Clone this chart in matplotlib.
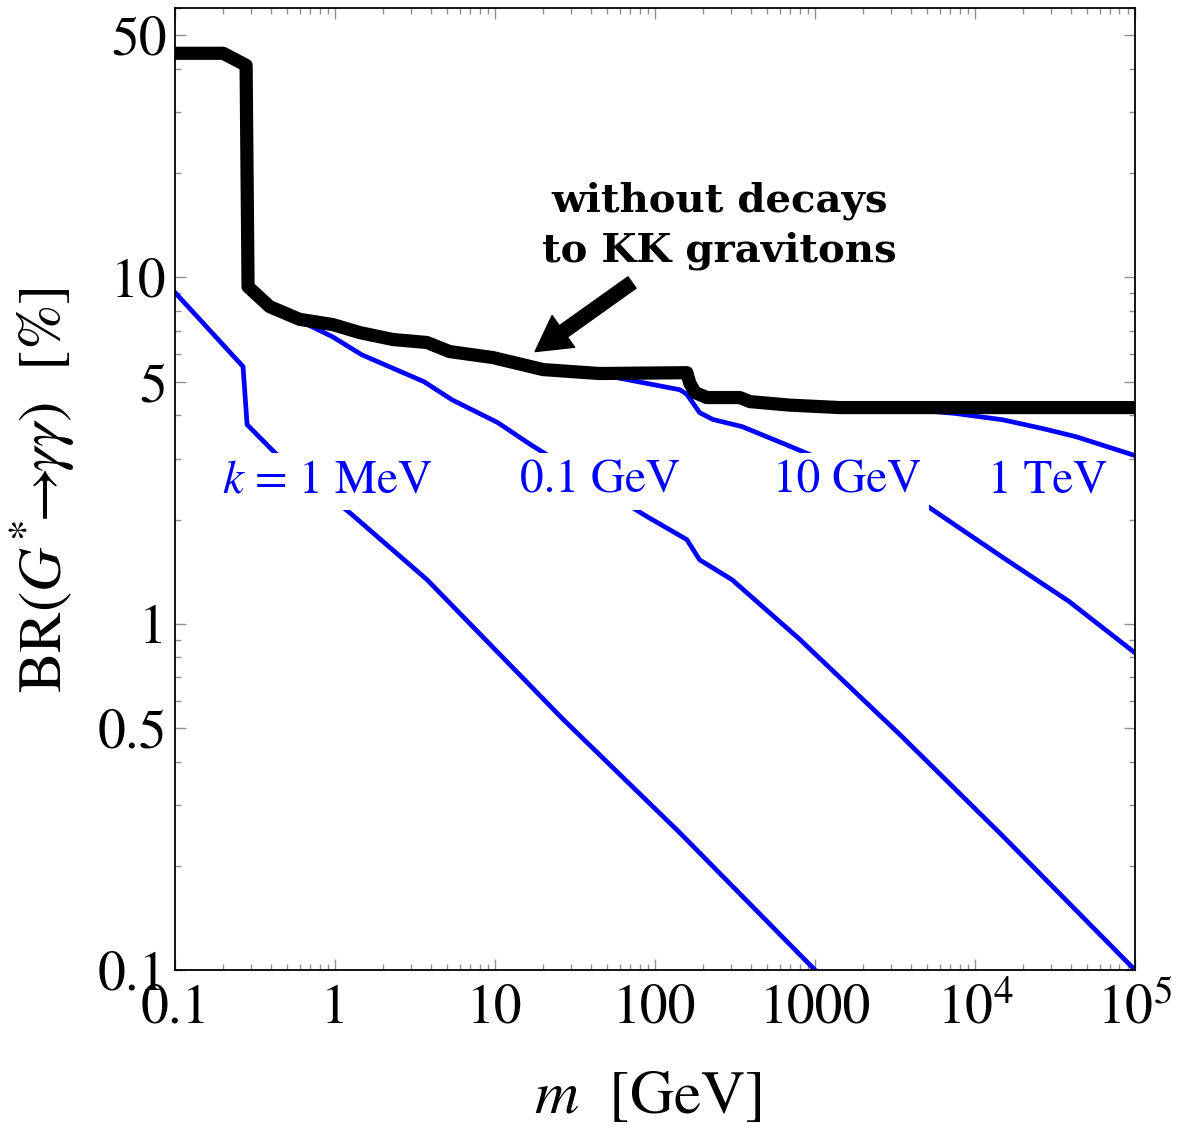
import numpy as np
import matplotlib as mpl
import matplotlib.pyplot as plt
from matplotlib.ticker import LogLocator, NullFormatter

mpl.rcParams['font.family'] = 'STIXGeneral'
mpl.rcParams['mathtext.fontset'] = 'stix'

# BR(G* -> gamma gamma) in %, without decays to KK gravitons
black_m = [0.1, 0.2, 0.278, 0.286, 0.39, 0.6, 0.97, 1.43, 2.3, 3.75, 5.2, 9.7,
           20, 45, 158, 165, 178, 211, 339, 392, 692, 1430, 1e5]
black_br = [44.4, 44.4, 41.0, 9.4, 8.24, 7.57, 7.31, 6.93, 6.62, 6.49, 6.11, 5.87,
            5.42, 5.28, 5.31, 4.95, 4.65, 4.5, 4.5, 4.38, 4.28, 4.21, 4.21]

# k = 1 MeV
k1_m = [0.1, 0.266, 0.282, 0.42, 1.24, 3.76, 26.6, 143, 1000]
k1_br = [9.05, 5.53, 3.76, 3.12, 2.09, 1.34, 0.53, 0.249, 0.1]

# k = 0.1 GeV
k2_m = [0.1, 0.2, 0.278, 0.286, 0.39, 0.6, 0.96, 1.47, 3.6, 5.4, 10.4, 16.7,
        89, 158, 190, 303, 806, 3450, 14750, 1e5]
k2_br = [44.4, 44.4, 41.0, 9.4, 8.24, 7.5, 6.75, 5.98, 5.0, 4.43, 3.81, 3.29,
         2.04, 1.75, 1.53, 1.34, 0.9, 0.475, 0.245, 0.1]

# k = 10 GeV
k3_m = [0.1, 0.2, 0.278, 0.286, 0.39, 0.6, 0.97, 1.43, 2.3, 3.75, 5.2, 9.7,
        20, 45, 67, 143, 158, 175, 190, 230, 350, 660, 4400, 14750, 38700, 1e5]
k3_br = [44.4, 44.4, 41.0, 9.4, 8.24, 7.57, 7.31, 6.93, 6.62, 6.49, 6.11, 5.87,
         5.42, 5.25, 5.07, 4.74, 4.6, 4.3, 4.07, 3.89, 3.71, 3.29, 2.28, 1.56, 1.16, 0.824]

# k = 1 TeV
k4_m = [0.1, 0.2, 0.278, 0.286, 0.39, 0.6, 0.97, 1.43, 2.3, 3.75, 5.2, 9.7,
        20, 45, 158, 165, 178, 211, 339, 392, 692, 1430, 3000, 7500, 15000,
        26600, 42700, 1e5]
k4_br = [44.4, 44.4, 41.0, 9.4, 8.24, 7.57, 7.31, 6.93, 6.62, 6.49, 6.11, 5.87,
         5.42, 5.28, 5.31, 4.95, 4.65, 4.5, 4.5, 4.38, 4.28, 4.21, 4.2, 4.05, 3.88,
         3.66, 3.47, 3.06]

curve_labels = [r'$k$ = 1 MeV', '0.1 GeV', '10 GeV', '1 TeV']
label_m = [0.898, 45.0, 1597, 28400]
label_br = 2.39

xticks = [0.1, 1, 10, 100, 1000, 1e4, 1e5]
xticklabels = ['0.1', '1', '10', '100', '1000', r'$10^4$', r'$10^5$']
yticks = [0.1, 0.5, 1, 5, 10, 50]
yticklabels = ['0.1', '0.5', '1', '5', '10', '50']

fig = plt.figure(figsize=(11.78, 11.29), dpi=100)
ax = fig.add_axes([0.1486, 0.1408, 0.8149, 0.8521])
ax.set_xscale('log')
ax.set_yscale('log')

blue = '#0000ff'
for m, br in [(k1_m, k1_br), (k2_m, k2_br), (k3_m, k3_br), (k4_m, k4_br)]:
    ax.plot(m, br, color=blue, lw=3.4, zorder=2, solid_joinstyle='round')
ax.plot(black_m, black_br, color='black', lw=9.5, zorder=3,
        solid_joinstyle='round', solid_capstyle='butt')

for txt, m in zip(curve_labels, label_m):
    ax.text(m, label_br, txt, color=blue, fontsize=34, ha='center', va='baseline',
            zorder=4, bbox=dict(boxstyle='square,pad=0.15', fc='white', ec='none'))

ax.text(253, 14.1, 'without decays\nto KK gravitons', family='DejaVu Serif',
        weight='bold', fontsize=29, ha='center', va='center',
        multialignment='center', linespacing=1.4, zorder=5)
ax.annotate('', xy=(17.8, 6.11), xytext=(71.8, 9.67), zorder=5,
            arrowprops=dict(facecolor='black', edgecolor='black', width=10,
                            headwidth=28, headlength=25, shrink=0))

ax.set_xlim(0.1, 1e5)
ax.set_ylim(0.1, 60)
ax.set_xticks(xticks)
ax.set_xticklabels(xticklabels)
ax.set_yticks(yticks)
ax.set_yticklabels(yticklabels)
ax.xaxis.set_minor_locator(LogLocator(base=10, subs=np.arange(2, 10) * 1.0, numticks=30))
ax.yaxis.set_minor_locator(LogLocator(base=10, subs=np.arange(2, 10) * 1.0, numticks=30))
ax.xaxis.set_minor_formatter(NullFormatter())
ax.yaxis.set_minor_formatter(NullFormatter())

ax.tick_params(which='both', direction='in', top=True, right=True,
               color='#909090', width=1.0, labelsize=40, labelcolor='black')
ax.tick_params(which='major', length=8)
ax.tick_params(which='minor', length=4)
ax.tick_params(axis='x', pad=10)
ax.tick_params(axis='y', pad=6)
for s in ax.spines.values():
    s.set_linewidth(1.3)
    s.set_color('black')

ax.set_xlabel(r'$m$  [GeV]', fontsize=44)
ax.xaxis.set_label_coords(0.492, -0.105)
ax.set_ylabel(r'BR($G^{*}\!\!\rightarrow\!\!\gamma\gamma$)  [%]', fontsize=44)
ax.yaxis.set_label_coords(-0.102, 0.499)

fig.savefig('out.png', dpi=100)
